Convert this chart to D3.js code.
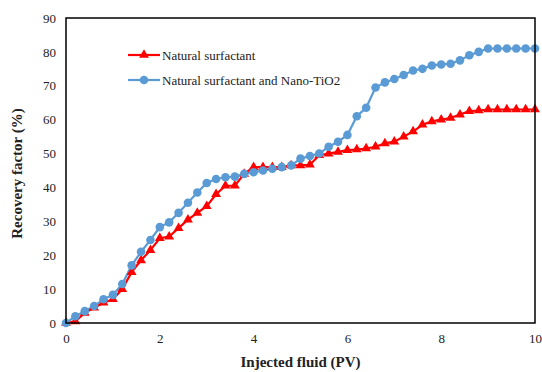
<!DOCTYPE html>
<html><head><meta charset="utf-8"><script src="https://cdn.jsdelivr.net/npm/d3@7"></script></head><body style="margin:0">
<svg id="c" width="542" height="372"></svg>
<script>
const pv = d3.range(0, 51).map(i => +(i * 0.2).toFixed(1));
const seriesNames = ["Natural surfactant", "Natural surfactant and Nano-TiO2"];
const natural = [0,0.5,3,4.5,6,7,10,15,18.5,21.5,25,25.5,28,30.5,32.5,34.5,38,40.5,40.5,44,46,46,46,46,46.5,46.5,46.7,49.5,50,50.5,51,51.2,51.5,52,53,53.5,55,56.5,58.5,59.5,60,60.5,61.5,62.5,62.7,63,63,63,63,63,63];
const nano = [0,2,3.5,5,7,8.3,11.5,17,21,24.5,28.3,29.7,32.5,35.5,38.5,41.3,42.5,43,43.2,44,44.5,45,45.5,46,46.5,48.5,49.3,50,52,53.5,55.5,61,63.5,69.5,71,72,73.2,74.5,75,76,76.3,76.5,77.5,79,80,81,81,81,81,81,81];
const xTicks = [0,2,4,6,8,10];
const yTicks = [0,10,20,30,40,50,60,70,80,90];
const xLabel = "Injected fluid (PV)";
const yLabel = "Recovery factor (%)";

const FF = '"Liberation Serif"';
const svg = d3.select("#c").attr("font-family","Liberation Serif");
const L = 66, R = 535, T = 18, B = 323;
const x = d3.scaleLinear().domain([0,10]).range([L,R]);
const y = d3.scaleLinear().domain([0,90]).range([B,T]);

const red = "#FF0000", blue = "#5B9BD5";
const line = d3.line().x((d,i)=>x(pv[i])).y(d=>y(d));
svg.append("path").datum(nano).attr("d",line).attr("fill","none").attr("stroke",blue).attr("stroke-width",2.2);
svg.append("path").datum(natural).attr("d",line).attr("fill","none").attr("stroke",red).attr("stroke-width",2.2);
const tri = d3.symbol().type(d3.symbolTriangle).size(42);
svg.append("g").selectAll("path").data(natural).join("path")
  .attr("d",tri).attr("transform",(d,i)=>`translate(${x(pv[i])},${y(d)})`).attr("fill",red);
svg.append("g").selectAll("circle").data(nano).join("circle")
  .attr("cx",(d,i)=>x(pv[i])).attr("cy",d=>y(d)).attr("r",4.3).attr("fill",blue);

svg.append("rect").attr("x",L).attr("y",T).attr("width",R-L).attr("height",B-T)
  .attr("fill","none").attr("stroke","#000").attr("stroke-width",1.5);

const xa = svg.append("g").attr("transform",`translate(0,${B})`)
  .call(d3.axisBottom(x).tickValues(xTicks).tickSize(0).tickPadding(11));
const ya = svg.append("g").attr("transform",`translate(${L},0)`)
  .call(d3.axisLeft(y).tickValues(yTicks).tickSize(0).tickPadding(10));
[xa,ya].forEach(a=>{
  a.attr("font-family","Liberation Serif").attr("font-size",13);
  a.select(".domain").remove();
  a.selectAll("text").style("font-family",FF).style("font-size","13px").attr("fill","#222");
});

const leg = [{n:seriesNames[0],c:red,t:"tri",yy:55},{n:seriesNames[1],c:blue,t:"circ",yy:80}];
leg.forEach(d=>{
  svg.append("line").attr("x1",128).attr("x2",160).attr("y1",d.yy).attr("y2",d.yy).attr("stroke",d.c).attr("stroke-width",2.2);
  if(d.t==="tri") svg.append("path").attr("d",tri).attr("transform",`translate(144,${d.yy})`).attr("fill",d.c);
  else svg.append("circle").attr("cx",144).attr("cy",d.yy).attr("r",4.3).attr("fill",d.c);
  svg.append("text").attr("x",162).attr("y",d.yy+4.5).style("font-family",FF).style("font-size","13px").attr("fill","#222").text(d.n);
});

svg.append("text").attr("x",(L+R)/2).attr("y",367).attr("text-anchor","middle")
  .style("font-family",FF).style("font-size","15px").style("font-weight","bold").attr("fill","#222").text(xLabel);
svg.append("text").attr("transform",`translate(22,${(T+B)/2+3}) rotate(-90)`).attr("text-anchor","middle")
  .style("font-family",FF).style("font-size","15px").style("font-weight","bold").attr("fill","#222").text(yLabel);
</script></body></html>
